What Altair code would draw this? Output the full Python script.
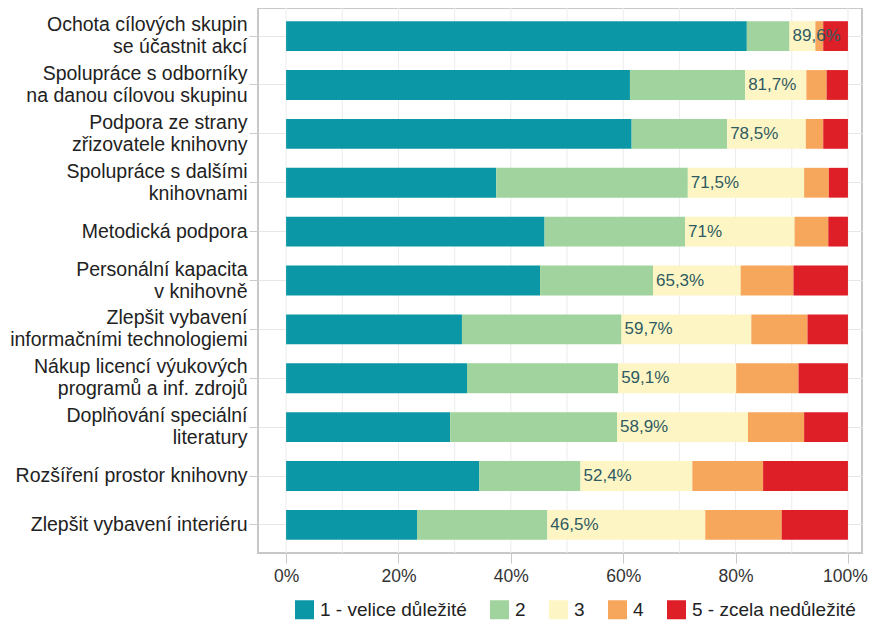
import altair as alt
import pandas as pd

categories = [
    "Ochota cílových skupin|se účastnit akcí",
    "Spolupráce s odborníky|na danou cílovou skupinu",
    "Podpora ze strany|zřizovatele knihovny",
    "Spolupráce s dalšími|knihovnami",
    "Metodická podpora",
    "Personální kapacita|v knihovně",
    "Zlepšit vybavení|informačními technologiemi",
    "Nákup licencí výukových|programů a inf. zdrojů",
    "Doplňování speciální|literatury",
    "Rozšíření prostor knihovny",
    "Zlepšit vybavení interiéru",
]
levels = ["1 - velice důležité", "2", "3", "4", "5 - zcela nedůležité"]
s1 = [82.0, 61.2, 61.5, 37.4, 46.0, 45.2, 31.3, 32.2, 29.2, 34.4, 23.3]
s2 = [7.6, 20.5, 17.0, 34.1, 25.0, 20.1, 28.4, 26.9, 29.7, 18.0, 23.2]
s3 = [4.6, 10.9, 14.0, 20.7, 19.5, 15.6, 23.1, 21.0, 23.3, 19.9, 28.1]
s4 = [1.4, 3.6, 3.1, 4.4, 6.0, 9.4, 10.0, 11.1, 10.0, 12.6, 13.6]
s5 = [4.4, 3.8, 4.4, 3.4, 3.5, 9.7, 7.2, 8.8, 7.8, 15.1, 11.8]
tick_values = [0, 20, 40, 60, 80, 100]
grid_values = [0, 10, 20, 30, 40, 50, 60, 70, 80, 90, 100]
colors = ["#0b97a5", "#a0d39d", "#fdf6c4", "#f7a75c", "#de1f27"]

series = [s1, s2, s3, s4, s5]
rows = []
for i, cat in enumerate(categories):
    start = 0.0
    for j, lev in enumerate(levels):
        v = series[j][i]
        rows.append({"cat": cat, "level": lev, "order": j, "start": start, "end": start + v})
        start += v
df = pd.DataFrame(rows)

lab_rows = []
for i, cat in enumerate(categories):
    tot = round(s1[i] + s2[i], 1)
    txt = (f"{tot:.1f}".rstrip("0").rstrip(".")).replace(".", ",") + "%"
    lab_rows.append({"cat": cat, "pos": tot, "txt": txt})
labdf = pd.DataFrame(lab_rows)

grid_df = pd.DataFrame({"g": grid_values})

xscale = alt.Scale(domain=[-5, 102.5], nice=False, zero=False)
yscale = alt.Scale(paddingInner=0.39, paddingOuter=0.27)

xaxis = alt.Axis(values=tick_values, labelExpr="datum.value + '%'",
                 labelFontSize=17.5, labelColor="#333333", labelFont="Liberation Sans",
                 labelOffset={"condition": {"test": "datum.value == 100", "value": -3}, "value": 0},
                 tickSize=10, tickColor="#c8c8c8", domain=False, grid=False,
                 labelPadding=4, title=None)

yaxis = alt.Axis(labelExpr="split(datum.label, '|')", labelFontSize=19.5,
                 labelColor="#222222", labelFont="Liberation Sans",
                 labelLimit=260, labelPadding=2, labelLineHeight=22,
                 labelOffset={"condition": {"test": "indexof(datum.value, '|') >= 0", "value": -11}, "value": 0},
                 tickSize=9, tickColor="#cccccc", domain=False,
                 grid=True, gridColor="#e6e6e6", title=None)

grid = alt.Chart(grid_df).mark_rule(color="#ececec", strokeWidth=1).encode(
    x=alt.X("g:Q", scale=xscale, axis=xaxis)
)

bars = alt.Chart(df).mark_bar().encode(
    y=alt.Y("cat:N", sort=categories, scale=yscale, axis=yaxis),
    x=alt.X("start:Q", scale=xscale, axis=xaxis),
    x2="end:Q",
    color=alt.Color("level:N", sort=levels,
                    scale=alt.Scale(domain=levels, range=colors),
                    legend=alt.Legend(title=None, orient="none", direction="horizontal",
                                      legendX=37, legendY=592,
                                      symbolType="square", symbolSize=361,
                                      symbolStrokeWidth=0, labelFontSize=19,
                                      labelFont="Liberation Sans", labelColor="#222222",
                                      labelLimit=300, columnPadding=23, labelOffset=6)),
    order=alt.Order("order:Q"),
)

labels = alt.Chart(labdf).mark_text(align="left", baseline="middle", dx=3,
                                    fontSize=17, font="Liberation Sans",
                                    color="#2f5a62").encode(
    y=alt.Y("cat:N", sort=categories, scale=yscale, axis=yaxis),
    x=alt.X("pos:Q", scale=xscale, axis=xaxis),
    text="txt:N",
)

chart = alt.layer(grid, bars, labels).properties(
    width=604, height=545, autosize="none",
    padding={"left": 250, "top": 0, "right": 7, "bottom": 68},
).configure_view(stroke="#c8c8c8", strokeWidth=2)

chart.save("out.html", embed_options={"renderer": "svg", "actions": False})
